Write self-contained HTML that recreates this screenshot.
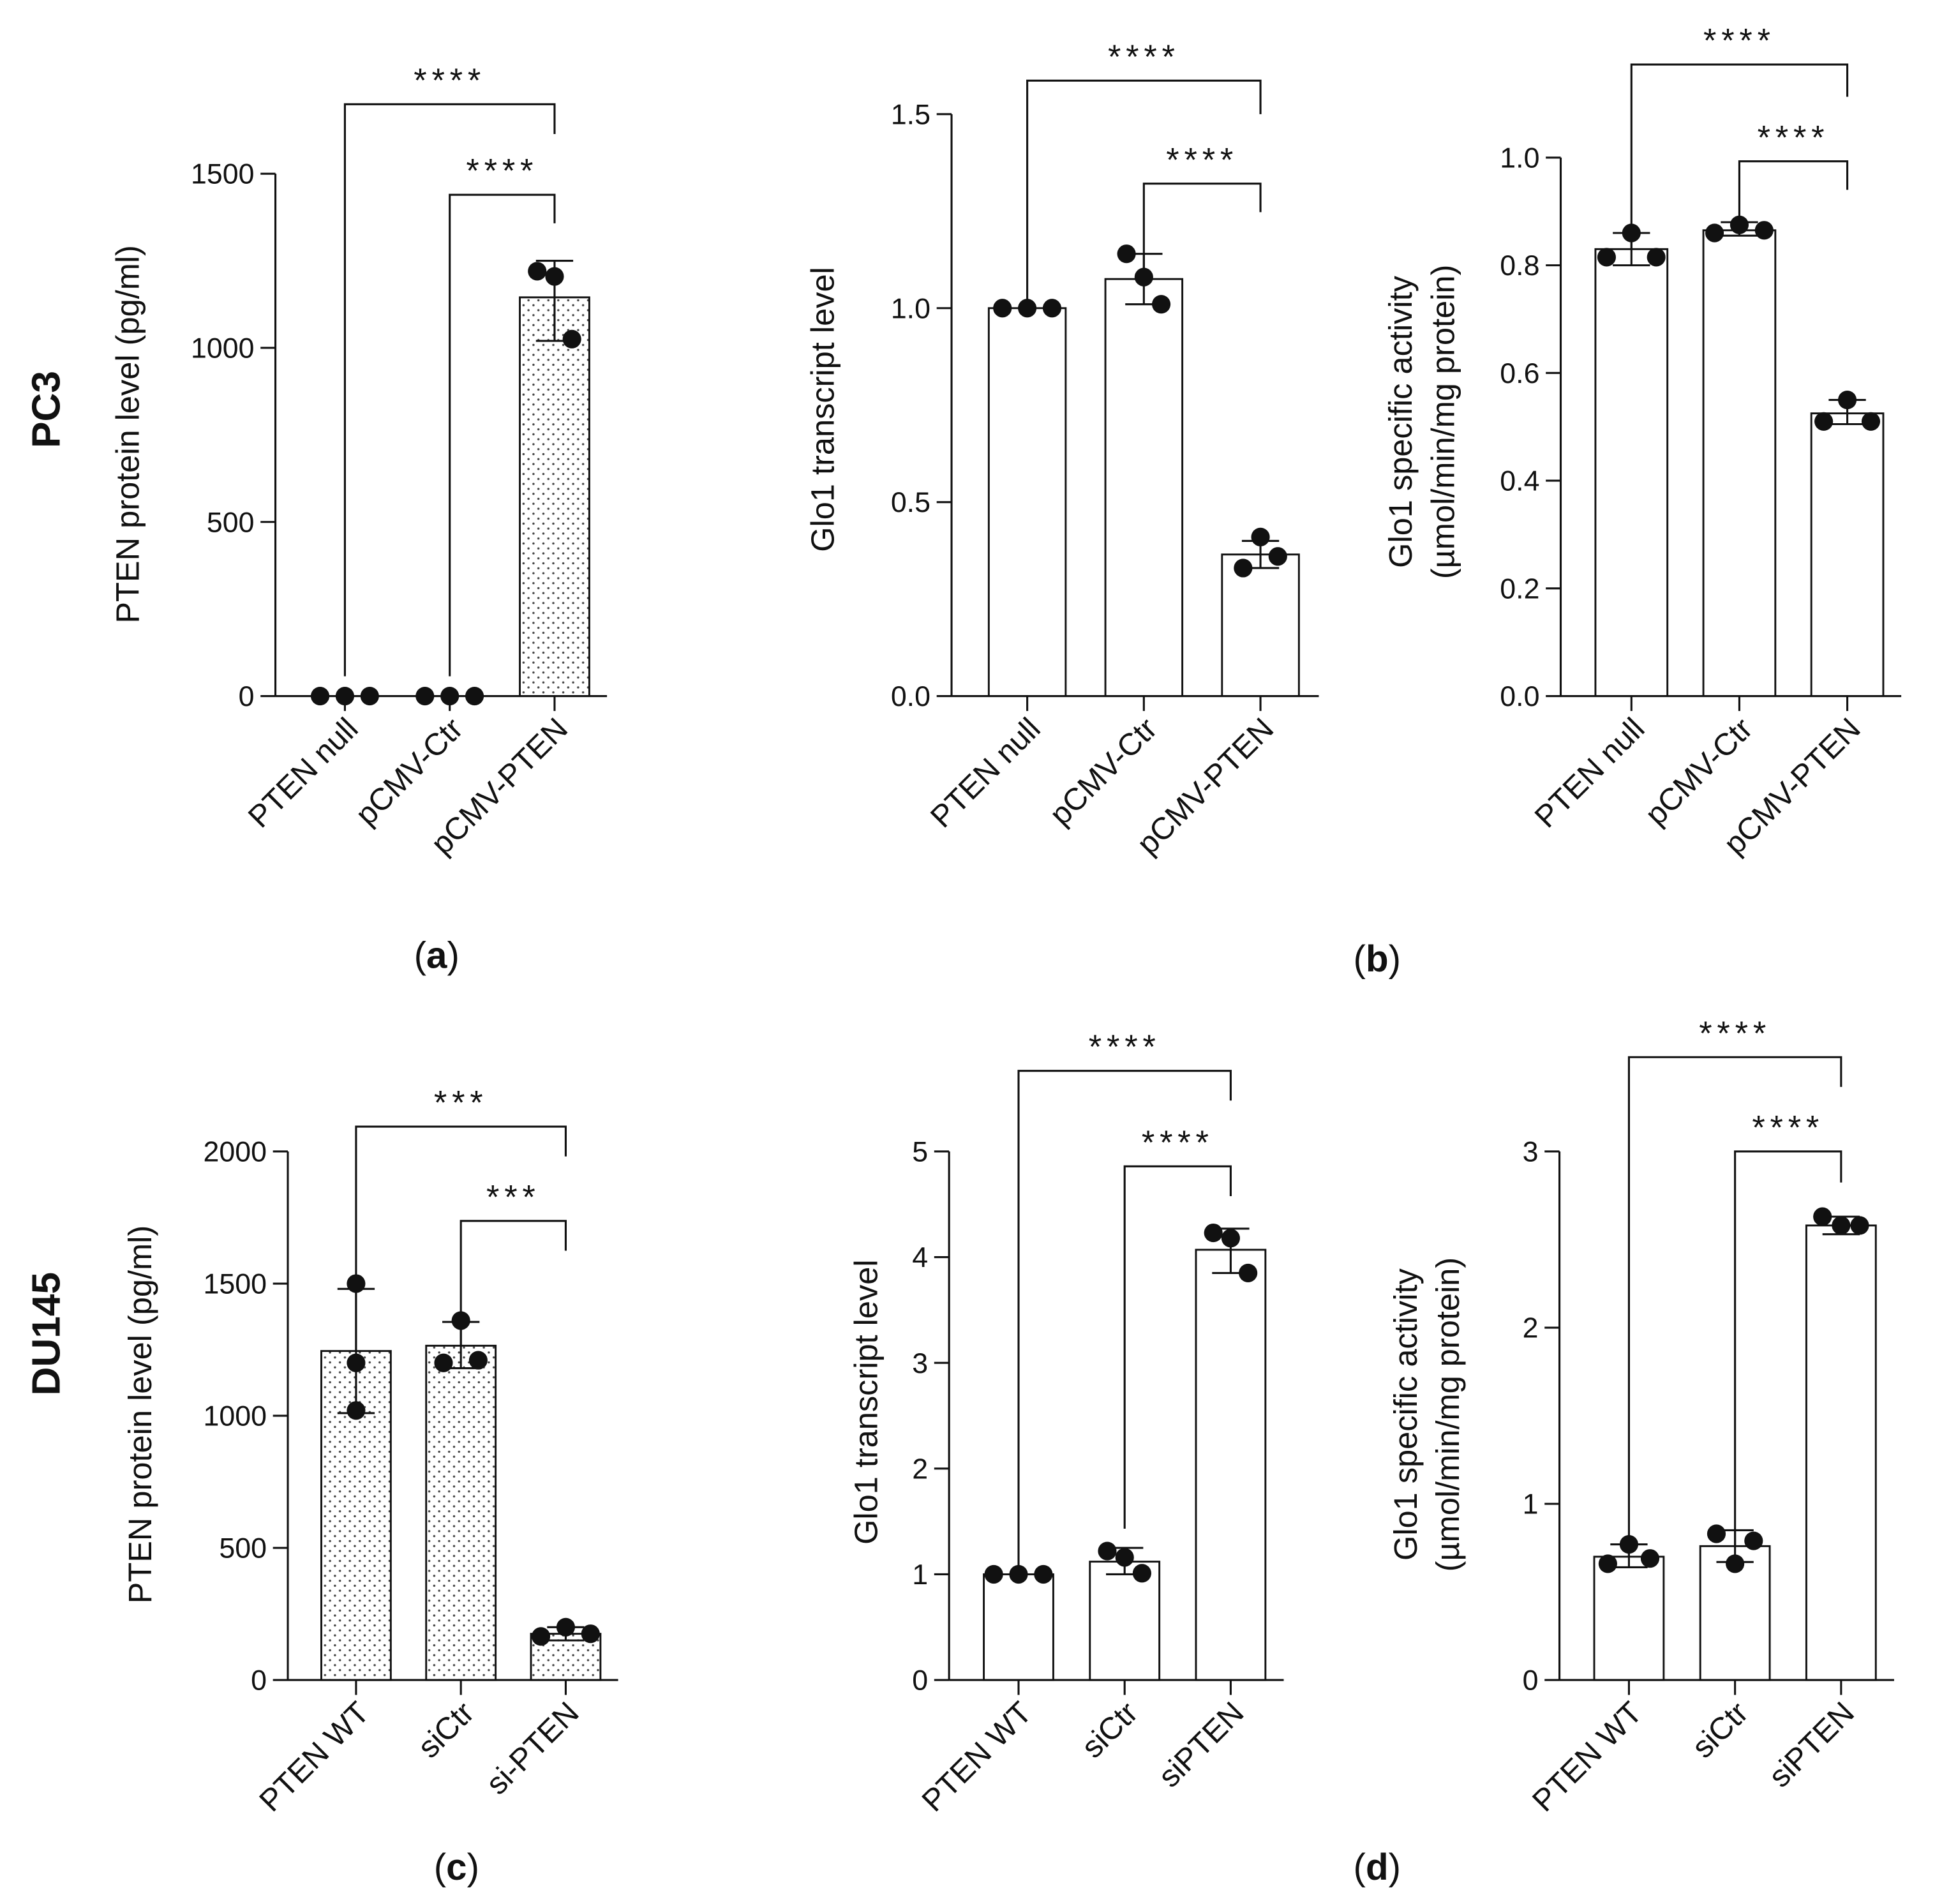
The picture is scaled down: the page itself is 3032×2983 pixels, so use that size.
<!DOCTYPE html>
<html><head><meta charset="utf-8"><style>
html,body{margin:0;padding:0;background:#fff}
svg{display:block}
text{font-family:"Liberation Sans",sans-serif;fill:#111}
</style></head><body>
<svg id="fig" width="3032" height="2983" viewBox="0 0 1559.7 1534.5" preserveAspectRatio="none" xmlns="http://www.w3.org/2000/svg">
<defs>
<pattern id="dots" width="8" height="8" patternUnits="userSpaceOnUse">
<rect width="8" height="8" fill="#fff"/><circle cx="2" cy="2" r="0.9" fill="#444"/><circle cx="6" cy="6" r="0.9" fill="#444"/>
</pattern>
</defs>
<text x="0" y="0" transform="translate(48,330) rotate(-90)" text-anchor="middle" font-size="32" font-weight="bold">PC3</text>
<text x="0" y="0" transform="translate(48,1075) rotate(-90)" text-anchor="middle" font-size="32" font-weight="bold">DU145</text>
<text x="352" y="780" text-anchor="middle" font-size="30">(<tspan font-weight="bold">a</tspan>)</text>
<text x="1110" y="783" text-anchor="middle" font-size="30">(<tspan font-weight="bold">b</tspan>)</text>
<text x="368" y="1515" text-anchor="middle" font-size="30">(<tspan font-weight="bold">c</tspan>)</text>
<text x="1110" y="1515" text-anchor="middle" font-size="30">(<tspan font-weight="bold">d</tspan>)</text>
</svg>
<script>
// ---- data ----
const catsA = ["PTEN null","pCMV-Ctr","pCMV-PTEN"];
const valsA = [0,0,1145];
const errLoA = [0,0,1020];
const errHiA = [0,0,1250];
const ptsA = [[0,0,0],[0,0,0],[1220,1205,1025]];
const ticksA = [0,500,1000,1500];

const catsB = ["PTEN null","pCMV-Ctr","pCMV-PTEN"];
const valsB = [1.0,1.075,0.365];
const errLoB = [1.0,1.01,0.33];
const errHiB = [1.0,1.14,0.40];
const ptsB = [[1.0,1.0,1.0],[1.14,1.08,1.01],[0.33,0.41,0.36]];
const ticksB = ["0.0","0.5","1.0","1.5"];

const catsE = ["PTEN null","pCMV-Ctr","pCMV-PTEN"];
const valsE = [0.83,0.865,0.525];
const errLoE = [0.80,0.855,0.505];
const errHiE = [0.86,0.88,0.55];
const ptsE = [[0.815,0.86,0.815],[0.86,0.875,0.865],[0.51,0.55,0.51]];
const ticksE = ["0.0","0.2","0.4","0.6","0.8","1.0"];

const catsC = ["PTEN WT","siCtr","si-PTEN"];
const valsC = [1245,1265,175];
const errLoC = [1010,1180,150];
const errHiC = [1480,1355,200];
const ptsC = [[1500,1200,1020],[1200,1360,1210],[165,200,175]];
const ticksC = [0,500,1000,1500,2000];

const catsD = ["PTEN WT","siCtr","siPTEN"];
const valsD = [1.0,1.12,4.07];
const errLoD = [1.0,1.0,3.85];
const errHiD = [1.0,1.25,4.27];
const ptsD = [[1,1,1],[1.22,1.16,1.01],[4.23,4.18,3.85]];
const ticksD = [0,1,2,3,4,5];

const catsF = ["PTEN WT","siCtr","siPTEN"];
const valsF = [0.70,0.76,2.58];
const errLoF = [0.64,0.67,2.53];
const errHiF = [0.77,0.85,2.63];
const ptsF = [[0.66,0.77,0.69],[0.83,0.66,0.79],[2.63,2.58,2.58]];
const ticksF = [0,1,2,3];

const sigA = ["****","****"], sigB = ["****","****"], sigE = ["****","****"];
const sigC = ["***","***"], sigD = ["****","****"], sigF = ["****","****"];

const NS = "http://www.w3.org/2000/svg";
const svg = document.getElementById("fig");
function mk(tag, attrs, parent){
  const e = document.createElementNS(NS, tag);
  for (const k in attrs) e.setAttribute(k, attrs[k]);
  (parent||svg).appendChild(e);
  return e;
}

function panel(cfg){
  const g = mk("g", {});
  
  
  const ymax = parseFloat(cfg.ticks[cfg.ticks.length-1]);
  const Y = v => cfg.y0 - (v / ymax) * (cfg.y0 - cfg.ytop);
  const X = i => cfg.x0 + cfg.first + i * cfg.step;
  const st = {stroke:"#111","stroke-width":1.6,fill:"none"};
  // significance brackets (drawn first so bars cover them)
  const br = (i1, i2, yb, ye1, ye2, s) => {
    mk("polyline", Object.assign({points:`${X(i1)},${ye1} ${X(i1)},${yb} ${X(i2)},${yb} ${X(i2)},${ye2}`}, st), g);
    const t = mk("text", {x:(X(i1)+X(i2))/2,y:yb-10,"text-anchor":"middle","font-size":27,"letter-spacing":"4"}, g);
    t.textContent = s;
    
    
  };
  const b = cfg.br;
  br(0, 2, b[0], b[1], b[2], cfg.sig[0]);
  br(1, 2, b[3], b[4], b[5], cfg.sig[1]);
  // y axis
  const ya = mk("line", Object.assign({x1:cfg.x0,y1:cfg.y0,x2:cfg.x0,y2:Y(ymax)}, st), g);
  
  
  cfg.ticks.forEach(t => {
    const v = parseFloat(t);
    mk("line", Object.assign({x1:cfg.x0-12,y1:Y(v),x2:cfg.x0,y2:Y(v)}, st), g);
    const tl = mk("text", {x:cfg.x0-17,y:Y(v)+8,"text-anchor":"end","font-size":23}, g);
    tl.textContent = t;
    
    
  });
  cfg.ylabel.forEach((l, k) => {
    const tx = cfg.labX + k*34;
    const yt = mk("text", {x:0,y:0,transform:`translate(${tx},${cfg.labY}) rotate(-90)`,"text-anchor":"middle","font-size":26}, g);
    yt.textContent = l;
    
    
  });
  // bars
  cfg.vals.forEach((v, i) => {
    if (v > 0) {
      const r = mk("rect", {x:X(i)-cfg.bw/2,y:Y(v),width:cfg.bw,height:cfg.y0-Y(v),fill:cfg.fill,stroke:"#111","stroke-width":1.5}, g);
      
      
    }
  });
  // x axis
  const xa = mk("line", Object.assign({x1:cfg.x0,y1:cfg.y0,x2:X(2)+cfg.step/2,y2:cfg.y0}, st), g);
  
  
  cfg.cats.forEach((c, i) => {
    mk("line", Object.assign({x1:X(i),y1:cfg.y0,x2:X(i),y2:cfg.y0+12}, st), g);
    const cl = mk("text", {x:0,y:0,transform:`translate(${X(i)+12},${cfg.y0+28}) rotate(-45)`,"text-anchor":"end","font-size":25}, g);
    cl.textContent = c;
    
    
  });
  // error bars
  cfg.vals.forEach((v, i) => {
    if (cfg.hi[i] > cfg.lo[i]) {
      const x = X(i);
      mk("line", Object.assign({x1:x,y1:Y(cfg.lo[i]),x2:x,y2:Y(cfg.hi[i])}, st), g);
      mk("line", Object.assign({x1:x-15,y1:Y(cfg.lo[i]),x2:x+15,y2:Y(cfg.lo[i])}, st), g);
      const eb = mk("line", Object.assign({x1:x-15,y1:Y(cfg.hi[i]),x2:x+15,y2:Y(cfg.hi[i])}, st), g);
      
      
    }
  });
  // points
  cfg.pts.forEach((arr, i) => {
    arr.forEach((p, j) => {
      const dot = mk("circle", {cx:X(i)+(j-1)*cfg.jit[i],cy:Y(p),r:7.5,fill:"#111"}, g);
      
      
    });
  });
}

panel({name:"chart-a-pten-protein-pc3",x0:222,y0:561,ytop:140,first:56,step:84.5,bw:56,fill:"url(#dots)",
  ticks:ticksA,cats:catsA,vals:valsA,lo:errLoA,hi:errHiA,pts:ptsA,jit:[20,20,14],sig:sigA,
  ylabel:["PTEN protein level (pg/ml)"],labX:112,labY:350,br:[84,545,108,157,545,180]});
panel({name:"chart-b-glo1-transcript-pc3",x0:767,y0:561,ytop:92,first:61,step:94,bw:62,fill:"#fff",
  ticks:ticksB,cats:catsB,vals:valsB,lo:errLoB,hi:errHiB,pts:ptsB,jit:[20,14,14],sig:sigB,
  ylabel:["Glo1 transcript level"],labX:672,labY:330,br:[65,545,92,148,545,171]});
panel({name:"chart-e-glo1-activity-pc3",x0:1258,y0:561,ytop:127,first:57,step:87,bw:58,fill:"#fff",
  ticks:ticksE,cats:catsE,vals:valsE,lo:errLoE,hi:errHiE,pts:ptsE,jit:[20,20,19],sig:sigE,
  ylabel:["Glo1 specific activity","(µmol/min/mg protein)"],labX:1138,labY:340,br:[52,545,78,130,545,153]});
panel({name:"chart-c-pten-protein-du145",x0:232,y0:1354,ytop:928,first:55,step:84.5,bw:56,fill:"url(#dots)",
  ticks:ticksC,cats:catsC,vals:valsC,lo:errLoC,hi:errHiC,pts:ptsC,jit:[0,14,20],sig:sigC,
  ylabel:["PTEN protein level (pg/ml)"],labX:122,labY:1140,br:[908,1338,932,984,1338,1008]});
panel({name:"chart-d-glo1-transcript-du145",x0:765,y0:1354,ytop:928,first:56,step:85.5,bw:56,fill:"#fff",
  ticks:ticksD,cats:catsD,vals:valsD,lo:errLoD,hi:errHiD,pts:ptsD,jit:[20,14,14],sig:sigD,
  ylabel:["Glo1 transcript level"],labX:707,labY:1130,br:[863,1338,887,940,1232,964]});
panel({name:"chart-f-glo1-activity-du145",x0:1257,y0:1354,ytop:928,first:56,step:85.5,bw:56,fill:"#fff",
  ticks:ticksF,cats:catsF,vals:valsF,lo:errLoF,hi:errHiF,pts:ptsF,jit:[17,15,15],sig:sigF,
  ylabel:["Glo1 specific activity","(µmol/min/mg protein)"],labX:1142,labY:1140,br:[852,1338,876,928,1300,953]});
</script>
</body></html>
